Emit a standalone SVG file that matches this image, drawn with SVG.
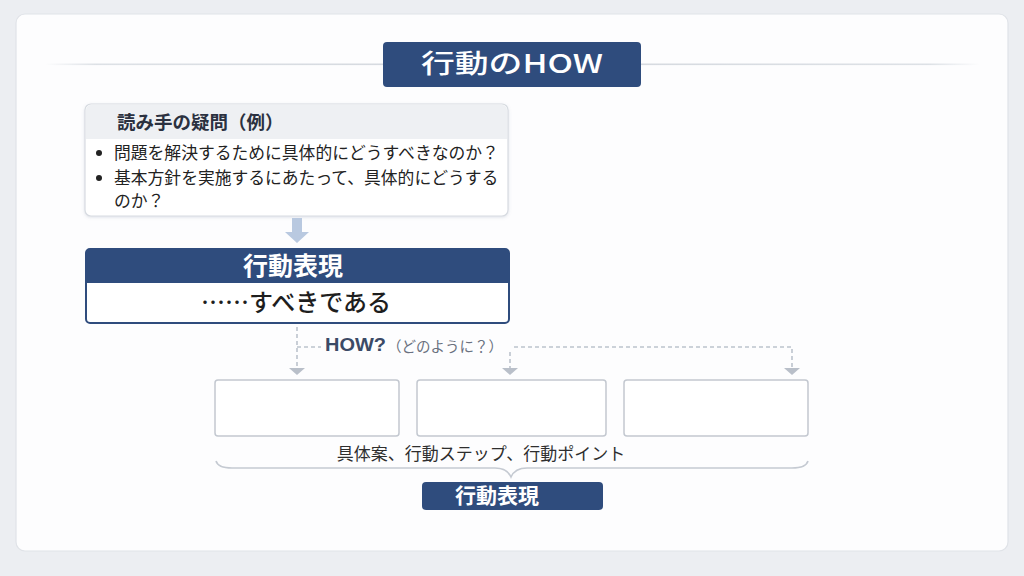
<svg xmlns="http://www.w3.org/2000/svg" width="1024" height="576" viewBox="0 0 1024 576">
<defs>
<style>
.jp{font-family:"Noto Sans CJK JP","Noto Sans",sans-serif}
.wb{fill:#ffffff;font-weight:bold}
.dash{fill:none;stroke:#bcc3cd;stroke-width:1.6;stroke-dasharray:4 3}
.sub{fill:#ffffff;stroke:#c3c8d0;stroke-width:1.5}
.head{fill:#b9bfc9}
</style>
<linearGradient id="lineL" x1="0" x2="1" y1="0" y2="0">
<stop offset="0" stop-color="#dde1e6" stop-opacity="0"/>
<stop offset="0.15" stop-color="#dde1e6"/>
<stop offset="1" stop-color="#d6dae0"/>
</linearGradient>
<linearGradient id="lineR" x1="0" x2="1" y1="0" y2="0">
<stop offset="0" stop-color="#d6dae0"/>
<stop offset="0.85" stop-color="#dde1e6"/>
<stop offset="1" stop-color="#dde1e6" stop-opacity="0"/>
</linearGradient>
<filter id="sh" x="-5%" y="-5%" width="110%" height="120%">
<feDropShadow dx="0" dy="1" stdDeviation="1.5" flood-color="#8090a8" flood-opacity="0.25"/>
</filter>
</defs>
<rect x="0" y="0" width="1024" height="576" fill="#eceef2"/>
<rect x="16" y="14" width="992" height="537" rx="9" fill="#fdfdfe" stroke="#e0e3e8" stroke-width="1.2"/>

<g id="title">
<rect x="45" y="63.5" width="338" height="1.6" fill="url(#lineL)"/>
<rect x="641" y="63.5" width="339" height="1.6" fill="url(#lineR)"/>
<rect x="383" y="42" width="258" height="45" rx="4" fill="#2f4c7d"/>
<text class="jp" x="421" y="72.5" font-size="26" font-weight="500" fill="#ffffff" textLength="182" lengthAdjust="spacingAndGlyphs">行動のHOW</text>
</g>

<g id="question">
<rect x="85" y="104" width="423" height="112" rx="6" fill="#ffffff" stroke="#d7dbe1" stroke-width="1.2" filter="url(#sh)"/>
<path d="M86,139 V110 a5,5 0 0 1 5,-5 H502 a5,5 0 0 1 5,5 V139 Z" fill="#eef0f3"/>
<text class="jp" x="117" y="129" font-size="18.5" font-weight="bold" fill="#2b3140">読み手の疑問（例）</text>
<circle cx="99" cy="153" r="3" fill="#222"/>
<circle cx="99" cy="178" r="3" fill="#222"/>
<g class="jp" font-size="16.8" fill="#222">
<text x="114" y="159">問題を解決するために具体的にどうすべきなのか？</text>
<text x="114" y="184">基本方針を実施するにあたって、具体的にどうする</text>
<text x="114" y="206.5">のか？</text>
</g>
</g>

<g id="action">
<rect x="86" y="249" width="423" height="74" rx="4" fill="#ffffff" stroke="#2f4c7d" stroke-width="2"/>
<path d="M86,283 V253 a4,4 0 0 1 4,-4 H505 a4,4 0 0 1 4,4 V283 Z" fill="#2f4c7d"/>
<text class="jp" x="293" y="274.5" font-size="25" font-weight="bold" fill="#ffffff" text-anchor="middle">行動表現</text>
<text class="jp" x="296" y="311" font-size="24" font-weight="500" fill="#1e1e1e" text-anchor="middle">……すべきである</text>
</g>

<g id="box1"><rect class="sub" x="215" y="380" width="184" height="56" rx="3"/></g>
<g id="box2"><rect class="sub" x="417" y="380" width="189" height="56" rx="3"/></g>
<g id="box3"><rect class="sub" x="624" y="380" width="184" height="56" rx="3"/></g>

<g id="summary">
<text class="jp" x="481" y="460" font-size="17" fill="#2e2e2e" text-anchor="middle">具体案、行動ステップ、行動ポイント</text>
<path d="M216,461 Q218,468 232,468 H495 Q507,468 511,477 Q515,468 527,468 H792 Q806,468 808,461" fill="none" stroke="#c5cad2" stroke-width="1.6"/>
<rect x="422" y="482" width="181" height="28" rx="4" fill="#2f4c7d"/>
<text class="jp wb" x="497" y="503" font-size="21" text-anchor="middle">行動表現</text>
</g>

<g id="connectors">
<path d="M292,218 V232 H285 L297,243 L309,232 H302 V218 Z" fill="#b9c9e0"/>
<path class="dash" d="M297,327 V368"/>
<path class="dash" d="M297,347 H321"/>
<path class="dash" d="M514,347 H792 V368"/>
<path class="dash" d="M510,352 V368"/>
<polygon class="head" points="289,368 305,368 297,375"/>
<polygon class="head" points="502,368 518,368 510,375"/>
<polygon class="head" points="784,368 800,368 792,375"/>
<text x="325" y="351" font-family="'Liberation Sans','DejaVu Sans',sans-serif" font-weight="bold" font-size="18" fill="#3b4a66" textLength="61" lengthAdjust="spacingAndGlyphs">HOW?</text>
<text class="jp" x="387" y="351.5" font-size="14.5" fill="#6a7180">（どのように？）</text>
</g>
</svg>
